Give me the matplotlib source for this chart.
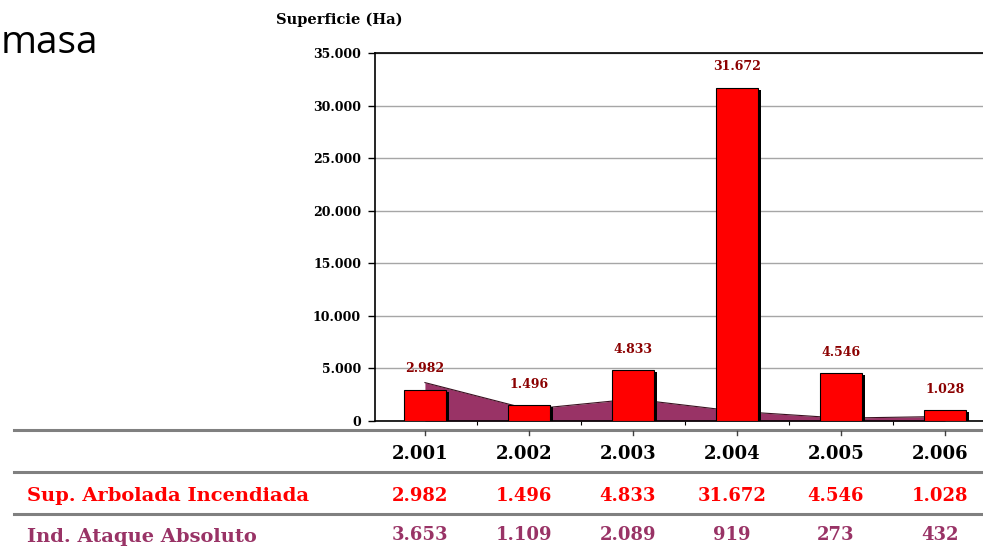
import matplotlib
matplotlib.use("Agg")
import matplotlib.pyplot as plt
import matplotlib.transforms as mtransforms
from matplotlib.lines import Line2D
from matplotlib.ticker import FuncFormatter, FixedLocator

years = ["2.001", "2.002", "2.003", "2.004", "2.005", "2.006"]
sup_arbolada = [2982, 1496, 4833, 31672, 4546, 1028]
ind_ataque = [3653, 1109, 2089, 919, 273, 432]
row_labels = ["Sup. Arbolada Incendiada", "Ind. Ataque Absoluto"]
y_ticks = [0, 5000, 10000, 15000, 20000, 25000, 30000, 35000]

RED = "#ff0000"
PURPLE = "#993366"
DARKRED = "#8b0000"
SERIF = "DejaVu Serif"


def fmt(v, pos=None):
    return f"{int(v):,}".replace(",", ".")


W, H = 983, 550
fig = plt.figure(figsize=(W / 100, H / 100), dpi=100)
ax = fig.add_axes([375 / W, 1 - 421 / H, 1 - 375 / W, (421 - 53) / H])

x = list(range(len(years)))

# area series behind the bars
ax.fill_between(x, ind_ataque, 0, color=PURPLE, linewidth=0, zorder=2)
ax.plot(x, ind_ataque, color="#3a1020", linewidth=0.8, zorder=2.1)

# bars with a black drop shadow
shadow = mtransforms.offset_copy(ax.transData, fig=fig, x=3, y=-2, units="dots")
ax.bar(x, sup_arbolada, width=0.41, color="black", transform=shadow, zorder=3)
ax.bar(x, sup_arbolada, width=0.41, color=RED, edgecolor="black", linewidth=0.8, zorder=4)

for xi, v in zip(x, sup_arbolada):
    ax.annotate(fmt(v), (xi, v), xytext=(0, 21), textcoords="offset pixels",
                ha="center", va="center", color=DARKRED, fontsize=9,
                fontweight="bold", family=SERIF, zorder=5)

ax.set_xlim(-0.48, 5.365)
ax.set_ylim(0, 35000)
ax.yaxis.set_major_locator(FixedLocator(y_ticks))
ax.yaxis.set_major_formatter(FuncFormatter(fmt))
ax.grid(axis="y", color="#a6a6a6", linewidth=1.0, zorder=0)
ax.set_axisbelow(True)

ax.set_xticks([])
ax.set_xticks([i + 0.5 for i in range(len(years) - 1)], minor=True)
ax.tick_params(axis="x", which="minor", length=3, width=0.8, direction="out", labelbottom=False)
ax.tick_params(axis="y", length=5, width=1.0, direction="out", pad=5)
for lab in ax.get_yticklabels():
    lab.set_family(SERIF)
    lab.set_fontweight("bold")
    lab.set_fontsize(9)

ax.spines["right"].set_visible(False)
for s in ("left", "top", "bottom"):
    ax.spines[s].set_color("black")
    ax.spines[s].set_linewidth(1.2)

fig.text(339 / W, 1 - 20 / H, "Superficie (Ha)", ha="center", va="center",
         family=SERIF, fontweight="bold", fontsize=10.5)
fig.text(1 / W, 1 - 53 / H, "masa", ha="left", va="baseline",
         family="Open Sans", fontsize=28)

# table underneath
for yline in (430, 472, 514):
    fig.add_artist(Line2D([14 / W, 1], [1 - yline / H] * 2, transform=fig.transFigure,
                          color="#808080", linewidth=2.2))

col = mtransforms.blended_transform_factory(ax.transData, fig.transFigure)
for xi in x:
    fig.add_artist(Line2D([xi, xi], [1 - 431 / H, 1 - 435 / H], transform=col,
                          color="#404040", linewidth=1.0))

for xi, yr, a, b in zip(x, years, sup_arbolada, ind_ataque):
    fig.text(xi - 0.05, 1 - 454 / H, yr, transform=col, ha="center", va="center",
             family=SERIF, fontweight="bold", fontsize=13, color="black")
    fig.text(xi - 0.05, 1 - 496 / H, fmt(a), transform=col, ha="center", va="center",
             family=SERIF, fontweight="bold", fontsize=13, color=RED)
    fig.text(xi - 0.05, 1 - 535 / H, fmt(b), transform=col, ha="center", va="center",
             family=SERIF, fontweight="bold", fontsize=13, color=PURPLE)

fig.text(27 / W, 1 - 496 / H, row_labels[0], ha="left", va="center",
         family=SERIF, fontweight="bold", fontsize=14, color=RED)
fig.text(27 / W, 1 - 537 / H, row_labels[1], ha="left", va="center",
         family=SERIF, fontweight="bold", fontsize=14, color=PURPLE)

fig.savefig("out.png", dpi=100)
